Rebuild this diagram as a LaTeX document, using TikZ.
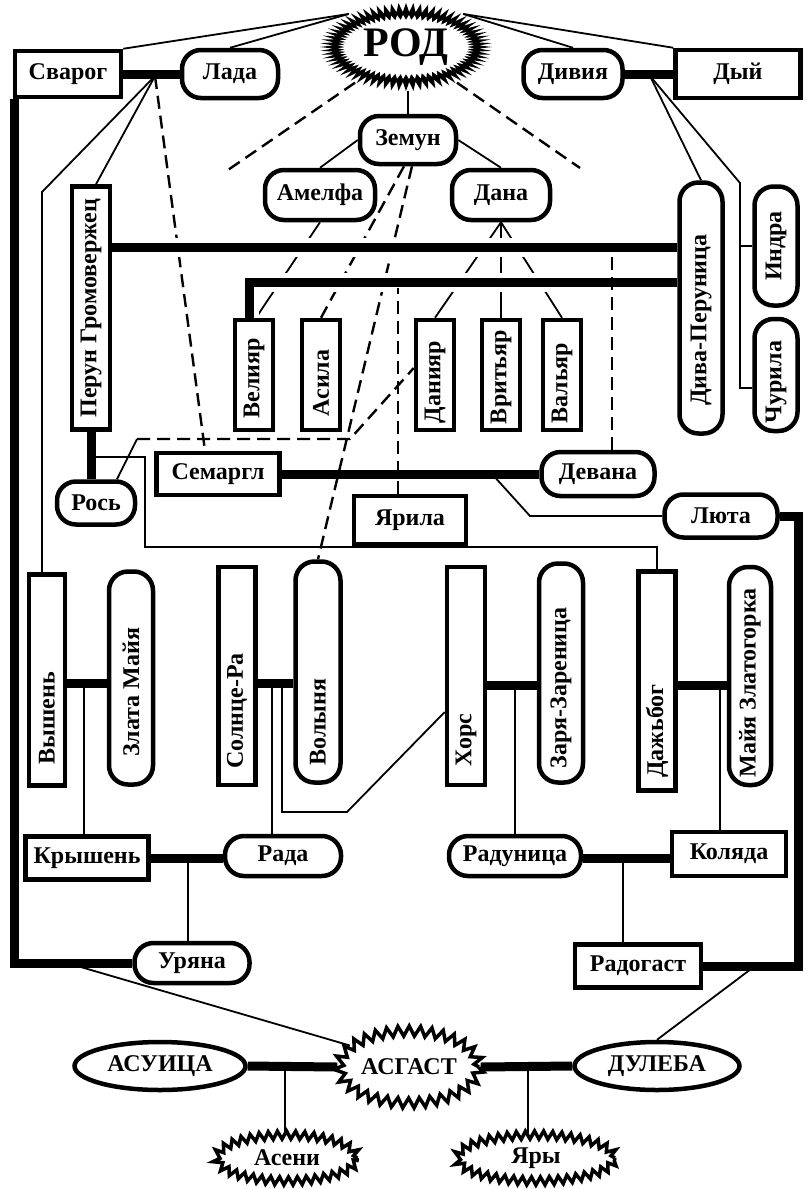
\documentclass[tikz,border=0pt]{standalone}
\usepackage{fontspec}
\setmainfont{Liberation Serif}
\usetikzlibrary{shapes.geometric, decorations.pathmorphing}
\newcommand{\vlabel}[2][0pt]{\rotatebox{90}{#2\hspace*{#1}}}

\begin{document}
\begin{tikzpicture}[
    x=1pt, y=-1pt,
    box/.style={draw, line width=4.5pt, fill=white, inner sep=0pt, font=\fontsize{24}{26}\selectfont\bfseries},
    oval/.style={box, rounded corners=19pt},
    sunny/.style={box, ellipse, line width=3.5pt, decorate, decoration={zigzag, segment length=9pt, amplitude=4pt}},
    wh/.style 2 args={minimum width=#1, minimum height=#2},
    bond/.style={line width=9pt},
    link/.style={line width=1.8pt},
    hint/.style={line width=2.4pt, dash pattern=on 13pt off 7pt},
    halo/.style={preaction={draw=white, line width=19pt}}
]
\useasboundingbox (0,0) rectangle (809,1189);

% Rod ring
\begin{scope}[shift={(406,47)}]
  \fill (0:86 and 44) \foreach \a in {0,5,...,355} {-- (\a+2.5:73 and 35) -- (\a+5:86 and 44)} -- cycle;
  \fill[white] (0:61 and 27) \foreach \a in {0,5,...,355} {-- (\a+2.5:68 and 32) -- (\a+5:61 and 27)} -- cycle;
\end{scope}
\node[ellipse, inner sep=0pt, wh={172}{88}, font=\fontsize{42}{46}\selectfont\bfseries] (rod) at (406,47) {РОД};

% Top row
\node[box, wh={106}{46}] (svarog) at (68,74) {Сварог};
\node[oval, wh={96}{48}] (lada) at (230,74) {Лада};
\node[oval, wh={99}{48}] (diviya) at (573,74) {Дивия};
\node[box, wh={125}{48}] (dyi) at (738,74) {Дый};
\node[oval, wh={96}{48}] (zemun) at (408,140) {Земун};
\node[oval, wh={110}{50}] (amelfa) at (320,195) {Амелфа};
\node[oval, wh={98}{50}] (dana) at (501,195) {Дана};

% Perun's house
\node[box, wh={38}{243}] (perun) at (91,308) {\vlabel{Перун Громовержец}};
\node[oval, wh={43}{251}] (diva) at (701,308) {\vlabel[24pt]{Дива-Перуница}};
\node[oval, wh={43}{119}] (indra) at (776,246) {\vlabel{Индра}};
\node[oval, wh={43}{112}] (churila) at (776,375) {\vlabel[14pt]{Чурила}};
\node[box, wh={38}{110}] (veliyar) at (254,375) {\vlabel[6pt]{Велияр}};
\node[box, wh={38}{110}] (asila) at (321,375) {\vlabel[16pt]{Асила}};
\node[box, wh={38}{110}] (daniyar) at (435,375) {\vlabel[14pt]{Данияр}};
\node[box, wh={38}{110}] (vritiyar) at (501,375) {\vlabel[4pt]{Вритьяр}};
\node[box, wh={38}{110}] (valiyar) at (562,375) {\vlabel[16pt]{Вальяр}};
\node[box, wh={123}{42}] (semargl) at (218,474) {Семаргл};
\node[oval, wh={113}{44}] (devana) at (598,474) {Девана};
\node[oval, wh={78}{43}] (ros) at (96,503) {Рось};
\node[box, wh={112}{48}] (yarila) at (410,520) {Ярила};
\node[oval, wh={113}{43}] (lyuta) at (721,516) {Люта};

% Middle row
\node[box, wh={36}{211}] (vyshen) at (47,680) {\vlabel[76pt]{Вышень}};
\node[oval, wh={44}{213}] (zlata) at (131,678) {\vlabel[28pt]{Злата Майя}};
\node[box, wh={37}{218}] (solnce) at (237,676) {\vlabel[70pt]{Солнце-Ра}};
\node[oval, wh={45}{221}] (volynya) at (318,672) {\vlabel[100pt]{Волыня}};
\node[box, wh={38}{218}] (hors) at (466,676) {\vlabel[128pt]{Хорс}};
\node[oval, wh={44}{219}] (zarya) at (561,673) {\vlabel[30pt]{Заря-Зареница}};
\node[box, wh={37}{219}] (dazhbog) at (657,681) {\vlabel[100pt]{Дажьбог}};
\node[oval, wh={42}{218}] (mayya) at (750,676) {\vlabel[14pt]{Майя Златогорка}};

% Lower rows
\node[box, wh={123}{43}] (kryshen) at (87,858) {Крышень};
\node[oval, wh={116}{40}] (rada) at (283,856) {Рада};
\node[oval, wh={115}{40}] (uryana) at (192,963) {Уряна};
\node[oval, wh={132}{40}] (radunica) at (515,856) {Радуница};
\node[box, wh={114}{44}] (kolyada) at (729,854) {Коляда};
\node[box, wh={126}{43}] (radogast) at (638,966) {Радогаст};
\node[box, ellipse, wh={171}{48}] (asuica) at (160,1066) {АСУИЦА};
\node[sunny, wh={140}{72}, decoration={zigzag, segment length=11pt, amplitude=5pt}] (asgast) at (409,1067) {АСГАСТ};
\node[box, ellipse, wh={165}{48}] (duleba) at (657,1066) {ДУЛЕБА};
\node[sunny, wh={141}{46}] (aseni) at (287,1158) {Асени};
\node[sunny, wh={158}{46}] (yary) at (536,1158) {Яры};

% Junctions
\coordinate (rodsw) at (225,172);
\coordinate (rodse) at (580,168);
\coordinate (sl) at (155,76);
\coordinate (dd) at (650,76);
\coordinate (dt) at (740,183);
\coordinate (rc) at (137,439);
\coordinate (rx) at (350,439);
\coordinate (sd) at (492,474);
\coordinate (jvz) at (84,683);
\coordinate (jsv) at (272,683);
\coordinate (jhs) at (282,683);
\coordinate (jhz) at (515,685);
\coordinate (jdm) at (720,685);
\coordinate (jkr) at (188,858);
\coordinate (jrk) at (623,858);
\coordinate (jfl) at (67,963);
\coordinate (jfr) at (755,966);
\coordinate (jas) at (285,1068);
\coordinate (jad) at (528,1068);

% Links to Rod
\draw[link] (svarog.north east) -- (rod.150);
\draw[link] (lada.north) -- (rod.150);
\draw[link] (diviya.north) -- (rod.30);
\draw[link] (dyi.north west) -- (rod.30);
\draw[link] (zemun.north) -- (zemun.north |- rod.south);
\draw[hint] (rod.215) -- (rodsw);
\draw[hint] (rod.-35) -- (rodse);

% Svarog and Lada
\draw[link] (sl) -- (42,192) -- ([xshift=-5pt]vyshen.north);
\draw[link] (sl) -- ([xshift=5pt]perun.north);
\draw[hint] (sl) -- ([xshift=-13pt]semargl.north);

% Diviya and Dyi
\draw[link] (dd) -- (diva.north);
\draw[link] (dd) -- (dt) |- ([yshift=-13pt]churila.west);
\draw[link] (indra.west) -- (indra.west -| dt);

% Zemun's line
\draw[link] (zemun.west) -- (amelfa.north);
\draw[link] (zemun.east) -- (dana.north);
\draw[hint] ([xshift=-4pt]zemun.south) -- (asila.north);
\draw[hint] ([xshift=4pt]zemun.south) -- (volynya.north);
\draw[link] (amelfa.south) -- ([xshift=2pt]veliyar.north);
\draw[link] (dana.south) -- (daniyar.north);
\draw[link] (dana.south) -- (vritiyar.north);
\draw[link] (dana.south) -- (valiyar.north);

% Ros, Dazhbog, Lyuta
\draw[link] ([xshift=21pt]ros.north) -- (rc);
\draw[hint] (rc) -- (rx) -- ([yshift=7pt]daniyar.west);
\draw[link] ([yshift=-25pt]perun.south) -| (145,547) -| (dazhbog.north);
\draw[link] (sd) -- (530,516) -- (lyuta.west);

% Children below
\draw[link] (jvz) -- (kryshen.north -| jvz);
\draw[link] (jsv) -- (rada.north -| jsv);
\draw[link] (jhs) -- (282,812) -- (347,812) -- ([yshift=-36pt]hors.west);
\draw[link] (jhz) -- (radunica.north -| jhz);
\draw[link] (jdm) -- (kolyada.north -| jdm);
\draw[link] (jkr) -- (uryana.north -| jkr);
\draw[link] (jrk) -- (radogast.north -| jrk);
\draw[link] (jfl) -- (asgast.160);
\draw[link] (jfr) -- (duleba.north);
\draw[link] (jas) -- (aseni.north -| jas);
\draw[link] (jad) -- (yary.north -| jad);

% Marriage bonds
\path ([yshift=61pt]perun.east) coordinate (wed1);
\path ([xshift=-5pt]veliyar.north) coordinate (wed2);
\draw[bond, halo] (wed1) -- (wed1 -| diva.west);
\draw[bond, halo] (wed2) |- ([yshift=26pt]diva.west);
\draw[bond] (svarog.east) -- (lada.west);
\draw[bond] (diviya.east) -- (dyi.west);
\draw[bond] (perun.south) -- (perun.south |- ros.north);
\draw[bond] (semargl.east) -- (devana.west);
\draw[bond] (lyuta.east) -| (798,966) -- (radogast.east);
\draw[bond] ([xshift=1.5pt]svarog.south west) |- (uryana.west);
\draw[bond] (vyshen.east |- jvz) -- (zlata.west |- jvz);
\draw[bond] (solnce.east |- jsv) -- (volynya.west |- jsv);
\draw[bond] (hors.east |- jhz) -- (zarya.west |- jhz);
\draw[bond] (dazhbog.east |- jdm) -- (mayya.west |- jdm);
\draw[bond] (kryshen.east |- jkr) -- (rada.west |- jkr);
\draw[bond] (radunica.east |- jrk) -- (kolyada.west |- jrk);
\draw[bond] (asuica.east) -- (asgast.west);
\draw[bond] (asgast.east) -- (duleba.west);

% Dashed lines from the bonds
\draw[hint] ([xshift=14pt]devana.north) -- ++(0,-198);
\draw[hint] ([xshift=-12pt]yarila.north) -- ++(0,-206);

\end{tikzpicture}
\end{document}
